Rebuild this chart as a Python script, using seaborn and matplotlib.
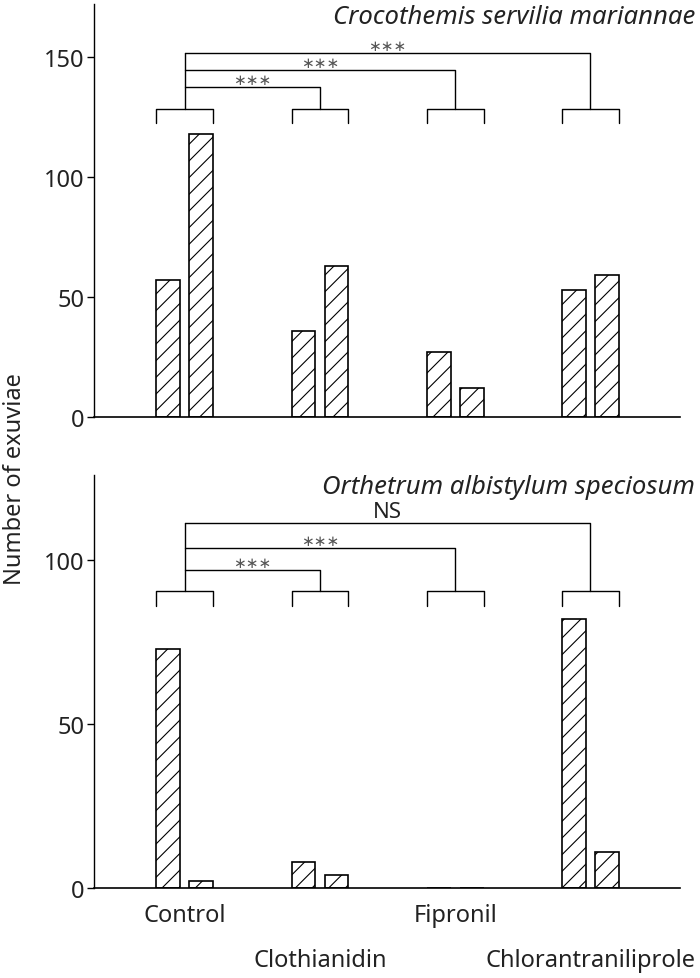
import numpy as np
import pandas as pd
import matplotlib
matplotlib.use('Agg')
import matplotlib.pyplot as plt
import seaborn as sns

# Data
treatments = ['Control', 'Clothianidin', 'Fipronil', 'Chlorantraniliprole']
series_names = ['first', 'second']
croco_first = [57, 36, 27, 53]
croco_second = [118, 63, 12, 59]
orth_first = [73, 8, 0, 82]
orth_second = [2, 4, 0, 11]
species = ['Crocothemis servilia mariannae', 'Orthetrum albistylum speciosum']
sig_top = ['***', '***', '***']
sig_bottom = ['***', '***', 'NS']
yticks_top = [0, 50, 100, 150]
yticks_bottom = [0, 50, 100]

sns.set_theme(style='white')
plt.rcParams['font.family'] = ['Noto Sans', 'DejaVu Sans']
plt.rcParams['hatch.linewidth'] = 0.8
plt.rcParams['hatch.color'] = 'black'

TXT = '#222222'


def make_df(a, b):
    return pd.DataFrame({
        'treatment': treatments * 2,
        'series': [series_names[0]] * 4 + [series_names[1]] * 4,
        'count': list(a) + list(b),
    })


def group_brackets(ax, top, leg, levels, labels):
    # small bracket over each pair of bars
    half = 0.21
    for i in range(len(treatments)):
        ax.plot([i - half, i - half, i + half, i + half], [leg, top, top, leg],
                color='black', lw=1.0, clip_on=False)
    # comparisons of Control against each treatment
    ax.plot([0, 0], [top, levels[-1]], color='black', lw=1.0, clip_on=False)
    for j, (lev, lab) in enumerate(zip(levels, labels)):
        tgt = j + 1
        ax.plot([0, tgt, tgt], [lev, lev, top], color='black', lw=1.0, clip_on=False)
        if lab == 'NS':
            ax.text(tgt / 2, lev + 0.2, lab, ha='center', va='bottom', fontsize=16, color=TXT)
        else:
            ax.text(tgt / 2, lev, '\u2217\u2217\u2217', ha='center', va='bottom', fontsize=11,
                    color='#555555', family=['DejaVu Sans'])


def style_axis(ax, ymax, yticks):
    ax.set_xlim(-0.673, 3.66)
    ax.set_ylim(0, ymax)
    ax.set_yticks(yticks)
    ax.set_yticklabels([str(t) for t in yticks], fontsize=17, color=TXT)
    ax.set_xlabel('')
    ax.set_ylabel('')
    for s in ['top', 'right']:
        ax.spines[s].set_visible(False)
    ax.spines['left'].set_color('black')
    ax.spines['bottom'].set_color('black')
    ax.spines['left'].set_linewidth(1.0)
    ax.spines['bottom'].set_linewidth(1.2)
    ax.tick_params(axis='y', direction='out', length=5, width=1.0, color='black', pad=2, left=True)
    ax.tick_params(axis='x', length=0)
    for bar in ax.patches:
        bar.set_hatch('//')


fig = plt.figure(figsize=(7, 9.79), dpi=100)
ax1 = fig.add_axes([0.134, 0.573, 0.837, 0.422])
ax2 = fig.add_axes([0.134, 0.092, 0.837, 0.422])

bar_kw = dict(x='treatment', y='count', hue='series', palette=['white', 'white'],
              edgecolor='black', linewidth=1.2, width=0.488, gap=0.275,
              legend=False, errorbar=None)

sns.barplot(data=make_df(croco_first, croco_second), ax=ax1, **bar_kw)
sns.barplot(data=make_df(orth_first, orth_second), ax=ax2, **bar_kw)

style_axis(ax1, 172, yticks_top)
style_axis(ax2, 126, yticks_bottom)

ax1.set_xticks([])
ax2.set_xticks(range(len(treatments)))
ax2.set_xticklabels(treatments, fontsize=17, color=TXT)
for i, tick in enumerate(ax2.xaxis.get_major_ticks()):
    tick.set_pad(11 if i % 2 == 0 else 43)

group_brackets(ax1, 128.3, 122.5, [137.5, 144.6, 151.7], sig_top)
group_brackets(ax2, 90.5, 86.0, [97.0, 103.7, 111.3], sig_bottom)

fig.text(0.993, 0.982, species[0], ha='right', va='center', fontsize=18.5,
         style='italic', color=TXT)
fig.text(0.993, 0.502, species[1], ha='right', va='center', fontsize=18.5,
         style='italic', color=TXT)
fig.text(0.022, 0.511, 'Number of exuviae', rotation=90, ha='center', va='center',
         fontsize=17, color=TXT)

fig.savefig('out.png', dpi=100, facecolor='white')
